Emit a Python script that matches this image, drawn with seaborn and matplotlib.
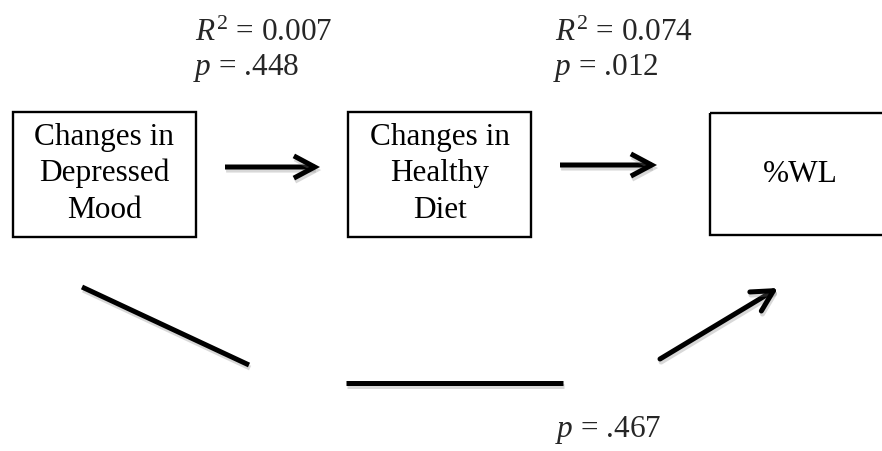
import matplotlib
matplotlib.use("Agg")
import matplotlib.pyplot as plt
import matplotlib.patheffects as pe
from matplotlib.patches import Rectangle, FancyArrowPatch, ArrowStyle
import seaborn as sns

# ---- data (text content of the path diagram) ----
node_labels = ["Changes in\nDepressed\nMood", "Changes in\nHealthy\nDiet", "%WL"]
path_r2 = ["0.007", "0.074"]
path_p = [".448", ".012"]
indirect_p = [".467"]

# ---- layout (pixel coordinates, y downwards) ----
box_x = [(13, 196), (348, 531), (710, 892)]
box_y = [(112, 237), (112, 237), (113, 235)]
box_first_baseline = [145, 145, 182]
line_pitch = 36.5
arrows = [((225, 167), (320, 167)), ((560, 165), (657, 165))]
stat_xy = [(195, 41), (555, 41)]
stat_pitch = 34
bottom_lines = [((82, 287), (249, 365)), ((346, 383), (563, 383))]
bottom_arrow = ((660, 359), (778, 288))
indirect_xy = (555, 437)

sns.set_theme(style="white")
plt.rcParams['font.family'] = ['Liberation Serif', 'DejaVu Serif']
plt.rcParams['mathtext.fontset'] = 'custom'
plt.rcParams['mathtext.rm'] = 'Liberation Serif'
plt.rcParams['mathtext.it'] = 'Liberation Serif:italic'
plt.rcParams['mathtext.bf'] = 'Liberation Serif:bold'

FS = 22.5
fig = plt.figure(figsize=(8.82, 4.51), dpi=100)
fig.patch.set_facecolor("white")
ax = fig.add_axes([0, 0, 1, 1])
ax.set_xlim(0, 882)
ax.set_ylim(451, 0)
ax.axis("off")

shadow = [pe.SimpleLineShadow(offset=(0.8, -2.2), shadow_color="gray", alpha=0.3), pe.Normal()]
pshadow = [pe.SimplePatchShadow(offset=(0.8, -2.2), shadow_rgbFace="gray", alpha=0.3), pe.Normal()]

# boxes and labels
for (x0, x1), (y0, y1), lab, b0 in zip(box_x, box_y, node_labels, box_first_baseline):
    ax.add_patch(Rectangle((x0, y0), x1 - x0, y1 - y0, fill=False, ec="black", lw=1.7,
                           clip_on=False))
    for i, line in enumerate(lab.split("\n")):
        ax.text((x0 + x1) / 2 if x1 < 882 else 800, b0 + i * line_pitch, line,
                ha="center", va="baseline", fontsize=FS, color="black")

# horizontal arrows
style = ArrowStyle("->", head_length=15, head_width=8)
for (p0, p1) in arrows:
    a = FancyArrowPatch(p0, p1, arrowstyle=style, mutation_scale=1, lw=3.6,
                        color="black", shrinkA=0, shrinkB=0, joinstyle="miter",
                        capstyle="butt")
    a.set_path_effects(shadow)
    ax.add_patch(a)

# statistics above arrows
for (x, y), r2, p in zip(stat_xy, path_r2, path_p):
    ax.text(x, y, r"$R^{2}$ = " + r2, ha="left", va="baseline", fontsize=FS)
    ax.text(x - 2, y + stat_pitch, r"$p$ = " + p, ha="left", va="baseline", fontsize=FS)

# bottom indirect path
for (p0, p1) in bottom_lines:
    ax.plot([p0[0], p1[0]], [p0[1], p1[1]], color="black", lw=3.6,
            solid_capstyle="butt", path_effects=shadow)
a = FancyArrowPatch(bottom_arrow[0], bottom_arrow[1], arrowstyle=style, mutation_scale=1,
                    lw=3.6, color="black", shrinkA=0, shrinkB=0)
a.set_path_effects(shadow)
ax.add_patch(a)
ax.text(indirect_xy[0], indirect_xy[1], r"$p$ = " + indirect_p[0], ha="left",
        va="baseline", fontsize=FS)

fig.savefig("out.png", dpi=100, facecolor="white")
